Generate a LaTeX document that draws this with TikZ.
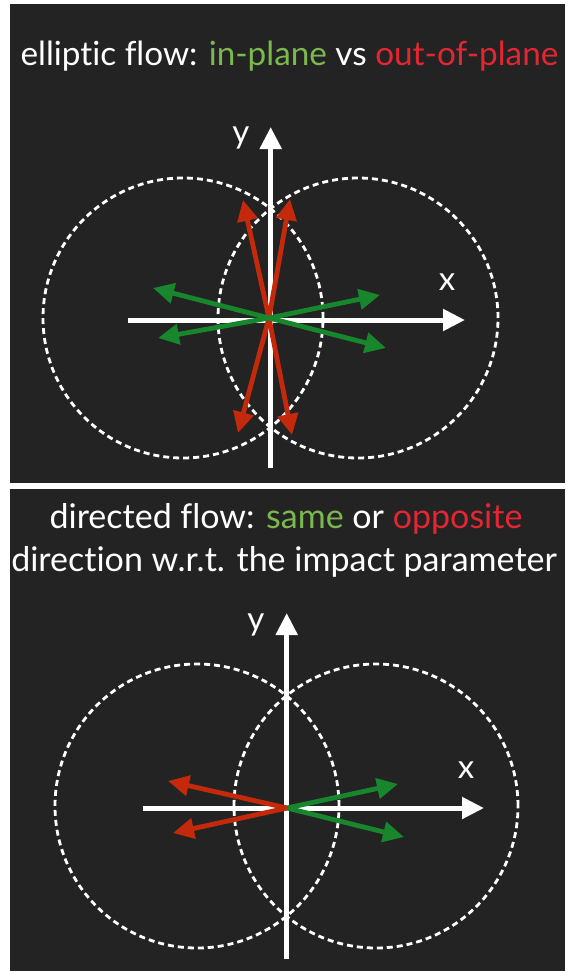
\documentclass[tikz,border=0pt]{standalone}
\usepackage{fontspec}
\setmainfont[Ligatures={NoCommon,NoRare}]{Lato}
\usetikzlibrary{arrows.meta}
\definecolor{bg}{HTML}{232323}
\definecolor{tgreen}{HTML}{7BB84E}
\definecolor{tred}{HTML}{E42632}
\definecolor{ared}{HTML}{C4290C}
\definecolor{agreen}{HTML}{17862C}
\tikzset{
  panel/.style={fill=bg, draw=none},
  axisline/.style={draw=white, line width=5pt, -{Triangle[length=22pt,width=21pt]}},
  redarrow/.style={draw=ared, line width=4.8pt, -{Triangle[length=21pt,width=20pt]}},
  greenarrow/.style={draw=agreen, line width=4.8pt, -{Triangle[length=21pt,width=20pt]}},
  dashcircle/.style={draw=white, line width=2.8pt, dash pattern=on 6pt off 4pt},
  titletext/.style={text=white, inner sep=0pt, anchor=base},
  axislabel/.style={text=white, font=\fontsize{33}{38}\selectfont, inner sep=0pt}
}
\begin{document}
\begin{tikzpicture}[x=1pt,y=-1pt]
\useasboundingbox (0,0) rectangle (565,971);
\fill[white] (0,0) rectangle (565,971);
% panels
\path[panel] (10,4) rectangle (565,483);
\path[panel] (10,489) rectangle (565,971);

% ---------- top panel ----------
\node[titletext, font=\fontsize{33.3}{40}\selectfont] (t1) at (289.5,66) {elliptic flow: \textcolor{tgreen}{in-plane} vs \textcolor{tred}{out-of-plane}};

\coordinate (xs1) at (128,320);
\coordinate (xe1) at (465,320);
\coordinate (ys1) at (270.7,468);
\coordinate (ye1) at (270.7,127);
\draw[axisline] (xs1) -- (xe1);
\draw[axisline] (ys1) -- (ye1);
\node[axislabel] (ylab1) at (241,138) {y};
\node[axislabel] (xlab1) at (447,282) {x};

\coordinate (cl1) at (183,318);
\coordinate (cr1) at (358,318);
\draw[dashcircle] (cl1) circle[radius=140pt];
\draw[dashcircle] (cr1) circle[radius=140pt];

\coordinate (o1) at (269,318);
\coordinate (r1a) at (243,200);
\coordinate (r1b) at (290,199);
\coordinate (r1c) at (238,433);
\coordinate (r1d) at (292,435);
\coordinate (g1a) at (153,288);
\coordinate (g1b) at (158,338);
\coordinate (g1c) at (380,295);
\coordinate (g1d) at (386,348);
\draw[redarrow] (o1) -- (r1a);
\draw[redarrow] (o1) -- (r1b);
\draw[redarrow] (o1) -- (r1c);
\draw[redarrow] (o1) -- (r1d);
\draw[greenarrow] (o1) -- (g1a);
\draw[greenarrow] (o1) -- (g1b);
\draw[greenarrow] (o1) -- (g1c);
\draw[greenarrow] (o1) -- (g1d);

% ---------- bottom panel ----------
\node[titletext, font=\fontsize{34}{40}\selectfont] (t2) at (286,528) {directed flow: \textcolor{tgreen}{same} or \textcolor{tred}{opposite}};
\node[titletext, font=\fontsize{34}{40}\selectfont] (t3) at (284,571) {direction w.r.t. the impact parameter};

\coordinate (xs2) at (143,808);
\coordinate (xe2) at (484,808);
\coordinate (ys2) at (286.7,959);
\coordinate (ye2) at (286.7,613);
\draw[axisline] (xs2) -- (xe2);
\draw[axisline] (ys2) -- (ye2);
\node[axislabel] (ylab2) at (256,625) {y};
\node[axislabel] (xlab2) at (466,770) {x};

\coordinate (cl2) at (197,806);
\coordinate (cr2) at (376,806);
\draw[dashcircle] (cl2) circle[radius=142pt];
\draw[dashcircle] (cr2) circle[radius=142pt];

\coordinate (o2) at (287,808);
\coordinate (r2a) at (168,781);
\coordinate (r2b) at (173,833);
\coordinate (g2a) at (398,784);
\coordinate (g2b) at (404,837);
\draw[redarrow] (o2) -- (r2a);
\draw[redarrow] (o2) -- (r2b);
\draw[greenarrow] (o2) -- (g2a);
\draw[greenarrow] (o2) -- (g2b);
\end{tikzpicture}
\end{document}
